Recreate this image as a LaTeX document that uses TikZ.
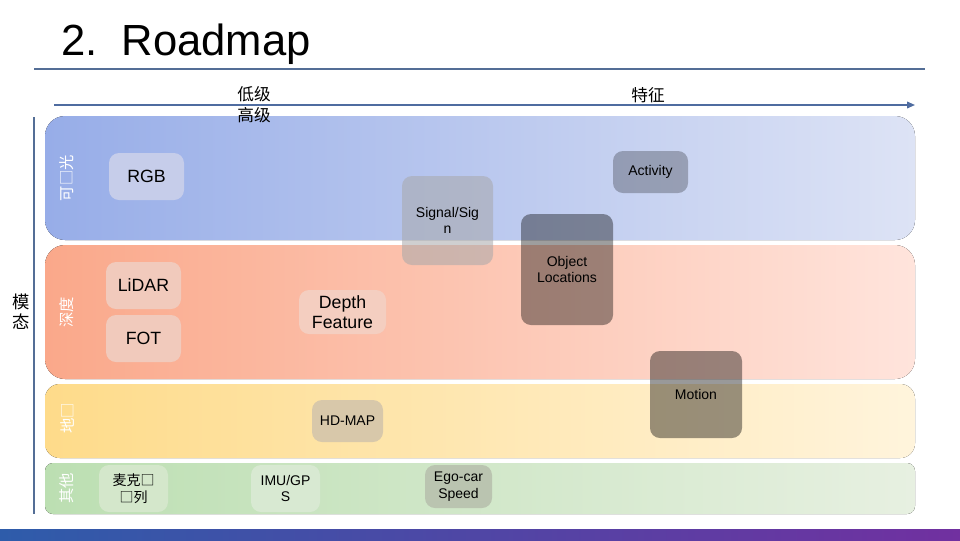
\documentclass[tikz,border=0pt]{standalone}
\usepackage{fontspec}
\setmainfont{Liberation Sans}
\newfontfamily\cjk{Noto Sans CJK SC}
\usetikzlibrary{arrows.meta}
\definecolor{lineblue}{RGB}{84,110,150}
\definecolor{arrowblue}{RGB}{79,108,160}
\definecolor{bandBlueL}{RGB}{151,173,232}
\definecolor{bandBlueR}{RGB}{221,227,245}
\definecolor{bandRedL}{RGB}{250,168,138}
\definecolor{bandRedR}{RGB}{255,228,220}
\definecolor{bandYelL}{RGB}{254,219,138}
\definecolor{bandYelR}{RGB}{255,244,220}
\definecolor{bandGrnL}{RGB}{188,223,178}
\definecolor{bandGrnR}{RGB}{231,240,225}
\definecolor{barL}{RGB}{46,92,170}
\definecolor{barR}{RGB}{113,48,160}
\definecolor{rgbfill}{RGB}{198,205,234}
\definecolor{lidarfill}{RGB}{241,202,188}
\definecolor{depthfill}{RGB}{244,206,192}
\definecolor{hdfill}{RGB}{216,200,170}
\definecolor{micfill}{RGB}{212,231,203}
\definecolor{imufill}{RGB}{216,233,210}
\definecolor{egofill}{RGB}{186,196,176}
\tikzset{
  x=0.75pt, y=-0.75pt,
  box/.style={rounded corners=7.5pt, inner sep=0pt, align=center, text=black, font=\fontsize{10.5}{12.5}\selectfont},
  bigbox/.style={box, font=\fontsize{13.3}{15.5}\selectfont},
  bandlabel/.style={rotate=90, text=white, font=\cjk\fontsize{11.5}{13}\selectfont},
}
\begin{document}
\begin{tikzpicture}
\useasboundingbox (0,0) rectangle (960,540);
% title
\node[anchor=base, font=\fontsize{32.7}{38}\selectfont] (title) at (186,55) {2.\ \ Roadmap};
\coordinate (hl1) at (34,69);
\coordinate (hl2) at (925,69);
\draw[lineblue, line width=0.8pt] (hl1) -- (hl2);
% bands
\fill[left color=bandBlueL, right color=bandBlueR, rounded corners=15pt] (45,116) rectangle (915,240);
\fill[left color=bandRedL, right color=bandRedR, rounded corners=15pt] (45,245) rectangle (915,379);
\fill[left color=bandYelL, right color=bandYelR, rounded corners=11pt] (45,384) rectangle (915,458);
\fill[left color=bandGrnL, right color=bandGrnR, rounded corners=6pt] (45,463) rectangle (915,514);
% axes
\coordinate (ax1) at (54,105);
\coordinate (ax2) at (915,105);
\draw[arrowblue, line width=1.2pt, -{Triangle[length=6pt,width=5pt]}] (ax1) -- (ax2);
\coordinate (vl1) at (34,117);
\coordinate (vl2) at (34,514);
\draw[lineblue, line width=0.8pt] (vl1) -- (vl2);
\node[font=\cjk\fontsize{12.5}{15.5}\selectfont, align=center] (lvl) at (254,105) {低级\\高级};
\node[font=\cjk\fontsize{12.5}{15}\selectfont] (feat) at (648,95) {特征};
\node[font=\cjk\fontsize{13}{15}\selectfont, align=center] (modal) at (21,312) {模\\态};
% band labels
\node[bandlabel] (lb1) at (67,178) {可□光};
\node[bandlabel] (lb2) at (67,312) {深度};
\node[bandlabel] (lb3) at (67,418) {地□};
\node[bandlabel] (lb4) at (67,488) {其他};
% boxes
\node[bigbox, fill=rgbfill, minimum width=56.25pt, minimum height=35.25pt] (rgb) at (146.5,176.5) {RGB};
\node[box, fill=black, fill opacity=0.25, text opacity=1, minimum width=56.25pt, minimum height=31.5pt] (act) at (650.5,172) {Activity};
\node[box, fill={rgb,255:red,168;green,168;blue,170}, fill opacity=0.55, text opacity=1, minimum width=68.25pt, minimum height=66.75pt] (sig) at (447.5,220.5) {Signal/Sig\\n};
\node[box, fill=black, fill opacity=0.38, text opacity=1, minimum width=69pt, minimum height=83.25pt] (obj) at (567,269.5) {Object\\Locations};
\node[bigbox, fill=lidarfill, minimum width=56.25pt, minimum height=35.25pt] (lidar) at (143.5,285.5) {LiDAR};
\node[bigbox, fill=lidarfill, minimum width=56.25pt, minimum height=35.25pt] (fot) at (143.5,338.5) {FOT};
\node[bigbox, fill=depthfill, minimum width=65.25pt, minimum height=33pt] (depth) at (342.5,312) {Depth\\Feature};
\node[box, fill=black, fill opacity=0.4, text opacity=1, minimum width=69pt, minimum height=65.25pt] (motion) at (696,394.5) {Motion};
\node[box, fill=hdfill, minimum width=53.25pt, minimum height=31.5pt] (hd) at (347.5,421) {HD-MAP};
\node[box, fill=micfill, minimum width=51.75pt, minimum height=35.25pt, font=\cjk\fontsize{10.5}{12.5}\selectfont] (mic) at (133.5,488.5) {麦克□\\□列};
\node[box, fill=imufill, minimum width=51.75pt, minimum height=35.25pt] (imu) at (285.5,488.5) {IMU/GP\\S};
\node[box, fill=egofill, minimum width=50.25pt, minimum height=32.25pt] (ego) at (458.5,486.5) {Ego-car\\Speed};
% bottom bar
\fill[left color=barL, right color=barR] (0,529) rectangle (960,540);
\end{tikzpicture}
\end{document}
